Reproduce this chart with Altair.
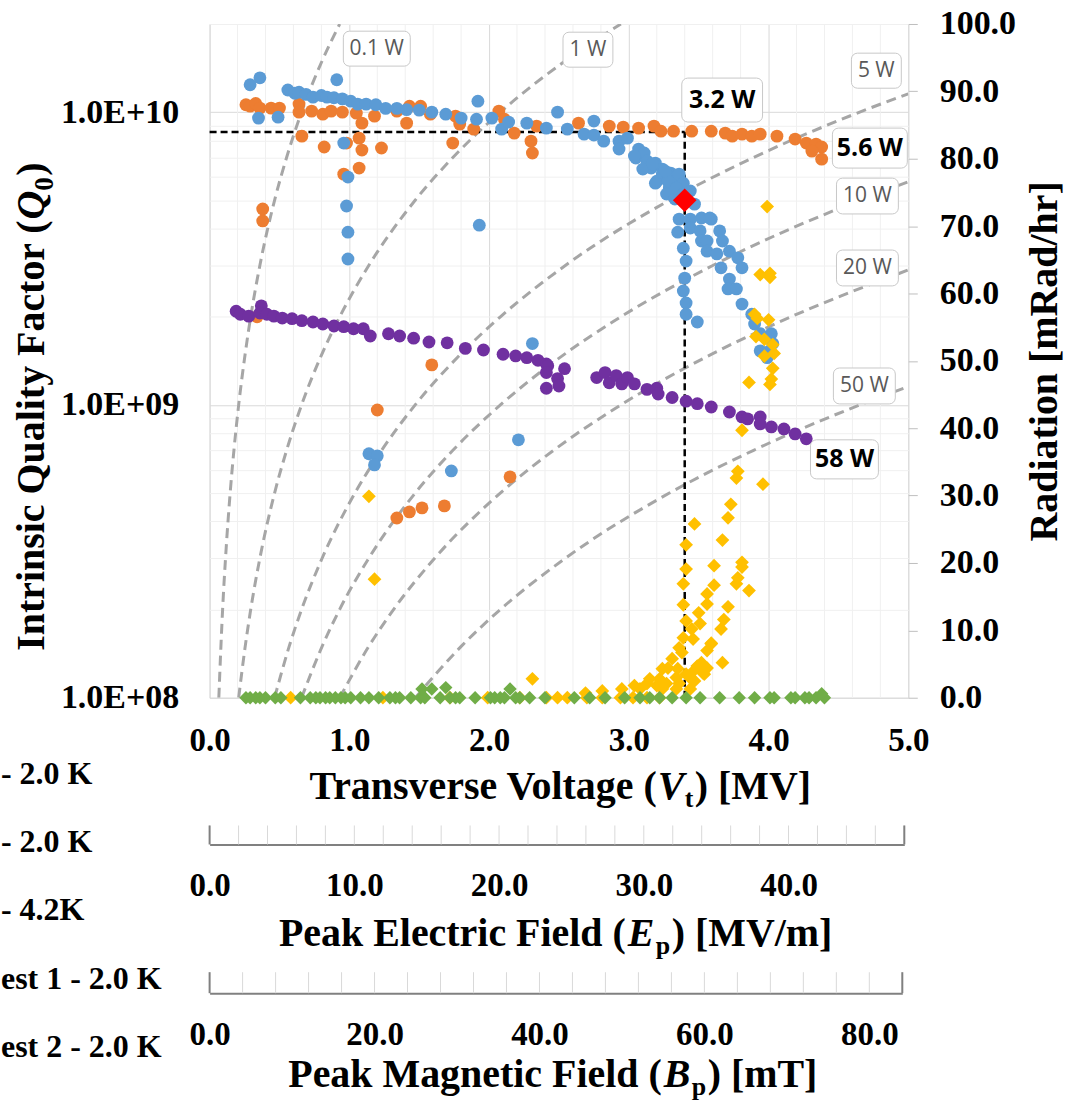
import altair as alt
import pandas as pd

SERIF = "Liberation Serif"
SANS = "Open Sans"

# ---------------- data (Vt [MV], Q0) ----------------
BLUE = [
    (0.29, 1.24e10), (0.36, 1.31e10), (0.35, 9.54e9), (0.49, 9.61e9), (0.91, 1.29e10),
    (0.56, 1.19e10), (0.61, 1.16e10), (0.64, 1.17e10), (0.69, 1.15e10), (0.74, 1.125e10),
    (0.80, 1.14e10), (0.84, 1.125e10), (0.89, 1.12e10), (0.95, 1.11e10), (1.01, 1.09e10),
    (1.06, 1.065e10), (1.12, 1.065e10), (1.19, 1.06e10), (1.26, 1.03e10), (1.34, 1.03e10),
    (1.41, 1.02e10), (1.50, 1.016e10), (1.59, 1.0e10), (1.69, 9.84e9), (1.80, 9.54e9),
    (1.91, 9.46e9), (2.02, 9.54e9), (2.09, 8.75e9), (2.14, 9.25e9), (2.27, 9.17e9),
    (2.41, 8.82e9), (2.49, 1.0e10), (1.92, 1.09e10),
    (2.56, 8.75e9), (2.68, 8.41e9), (2.75, 9.32e9), (2.75, 8.35e9), (2.82, 7.96e9),
    (2.93, 7.96e9), (2.99, 8.15e9), (2.93, 7.48e9), (3.07, 7.48e9), (3.05, 6.97e9),
    (3.11, 7.25e9), (3.13, 6.81e9), (3.19, 6.70e9), (3.16, 6.44e9), (3.24, 6.39e9),
    (3.30, 6.19e9), (3.36, 6.05e9),
    (3.04, 7.08e9), (3.10, 6.39e9), (3.17, 6.65e9), (3.20, 5.81e9), (3.24, 6.14e9),
    (3.29, 5.50e9), (3.31, 5.95e9), (3.36, 6.14e9), (3.39, 5.72e9), (3.27, 5.25e9),
    (3.33, 5.05e9), (3.44, 5.38e9), (3.47, 4.85e9), (3.36, 4.31e9), (3.44, 4.31e9),
    (3.52, 4.35e9), (3.59, 4.31e9), (3.19, 5.72e9), (3.28, 5.81e9), (3.26, 6.29e9),
    (3.34, 5.50e9), (3.39, 5.25e9),
    (3.35, 3.89e9), (3.39, 3.43e9), (3.41, 3.10e9), (3.40, 2.71e9), (3.39, 2.45e9),
    (3.41, 2.23e9), (3.41, 2.04e9), (3.49, 1.92e9),
    (3.44, 4.02e9), (3.51, 3.93e9), (3.52, 3.63e9), (3.56, 3.63e9), (3.56, 3.35e9),
    (3.63, 3.28e9), (3.66, 2.94e9), (3.72, 2.69e9), (3.71, 2.49e9), (3.77, 2.49e9),
    (3.81, 2.21e9), (3.88, 2.04e9), (3.90, 1.89e9), (3.94, 1.75e9), (4.02, 1.75e9),
    (4.03, 1.62e9), (3.94, 1.53e9), (3.99, 1.45e9), (4.01, 1.53e9),
    (3.58, 4.35e9), (3.65, 3.93e9), (3.67, 3.63e9), (3.72, 3.35e9), (3.78, 3.18e9),
    (3.81, 2.94e9),
    (0.96, 7.84e9), (0.99, 6.0e9), (0.98, 4.78e9), (0.99, 3.89e9), (0.99, 3.15e9),
    (1.93, 4.11e9), (2.31, 1.62e9), (1.14, 6.81e8), (1.20, 6.70e8), (1.18, 6.24e8),
    (1.73, 5.95e8), (2.21, 7.60e8),
]

ORANGE = [
    (0.26, 1.06e10), (0.29, 1.048e10), (0.33, 1.07e10), (0.36, 1.032e10), (0.44, 1.032e10),
    (0.50, 1.032e10), (0.64, 1.065e10), (0.64, 1.0e10), (0.73, 1.008e10), (0.81, 9.84e9),
    (0.87, 1.008e10), (0.95, 1.0e10), (1.05, 9.92e9), (1.09, 9.17e9), (1.18, 9.69e9),
    (1.34, 1.008e10), (1.43, 1.048e10), (1.51, 1.048e10), (1.41, 9.17e9), (1.58, 9.84e9),
    (1.76, 9.69e9), (1.79, 9.10e9), (1.89, 8.75e9), (2.07, 1.008e10), (2.11, 9.46e9),
    (2.18, 8.48e9), (2.34, 8.96e9),
    (0.66, 8.28e9), (0.82, 7.60e9), (0.98, 7.84e9), (1.07, 8.15e9), (1.09, 7.42e9),
    (1.23, 7.54e9), (1.07, 6.44e9), (0.96, 6.14e9), (1.74, 7.84e9), (2.30, 7.96e9),
    (2.31, 7.25e9), (0.38, 4.67e9), (0.38, 4.25e9), (0.34, 2.0e9), (1.59, 1.37e9),
    (1.20, 9.61e8), (1.34, 4.11e8), (1.43, 4.31e8), (1.52, 4.45e8), (1.68, 4.52e8),
    (2.15, 5.68e8),
    (2.64, 9.17e9), (2.86, 8.96e9), (2.96, 8.89e9), (3.07, 8.82e9), (3.18, 8.96e9),
    (3.23, 8.61e9), (3.32, 8.61e9), (3.45, 8.61e9), (3.59, 8.61e9), (3.69, 8.48e9),
    (3.74, 8.28e9), (3.81, 8.41e9), (3.88, 8.28e9), (3.94, 8.41e9), (4.06, 8.28e9),
    (4.19, 8.09e9), (4.27, 7.84e9), (4.34, 7.78e9), (4.38, 7.60e9), (4.31, 7.36e9),
    (4.38, 6.91e9),
]

PURPLE = [
    (0.19, 2.09e9), (0.22, 2.04e9), (0.28, 2.01e9), (0.37, 2.18e9), (0.36, 2.06e9),
    (0.41, 2.04e9), (0.46, 2.01e9), (0.52, 1.98e9), (0.59, 1.97e9), (0.66, 1.94e9),
    (0.74, 1.92e9), (0.81, 1.89e9), (0.89, 1.86e9), (0.96, 1.85e9), (1.03, 1.82e9),
    (1.10, 1.82e9), (1.15, 1.72e9), (1.28, 1.75e9), (1.36, 1.72e9), (1.46, 1.69e9),
    (1.57, 1.64e9), (1.70, 1.63e9), (1.83, 1.56e9), (1.96, 1.54e9), (2.10, 1.49e9),
    (2.19, 1.47e9), (2.27, 1.45e9), (2.35, 1.42e9), (2.41, 1.38e9), (2.42, 1.36e9),
    (2.41, 1.29e9), (2.54, 1.33e9), (2.49, 1.23e9), (2.41, 1.14e9), (2.50, 1.16e9),
    (2.77, 1.24e9), (2.83, 1.29e9), (2.86, 1.19e9), (2.91, 1.26e9), (2.95, 1.18e9),
    (2.99, 1.24e9), (3.04, 1.18e9), (3.13, 1.13e9), (3.20, 1.14e9), (3.21, 1.09e9),
    (3.31, 1.06e9), (3.41, 1.03e9), (3.49, 1.01e9), (3.59, 9.84e8), (3.72, 9.46e8),
    (3.81, 9.10e8), (3.85, 8.96e8), (3.94, 9.10e8), (3.94, 8.61e8), (4.02, 8.41e8),
    (4.11, 8.28e8), (4.19, 7.96e8), (4.27, 7.66e8),
]

RED = [(3.40, 5.0e9)]

# radiation series (Vt [MV], mRad/hr)
YELLOW = [
    (3.99, 72.9), (3.94, 62.8), (4.01, 63.0), (4.01, 62.4), (3.90, 56.9), (3.92, 56.3),
    (4.00, 56.1), (3.91, 53.6), (3.97, 53.2), (4.03, 52.4), (4.04, 51.1), (3.97, 50.7),
    (4.03, 48.9), (4.02, 47.3), (4.01, 46.5), (3.86, 46.8), (3.81, 39.7), (3.78, 33.6),
    (3.77, 32.6), (3.96, 31.7), (3.73, 28.7), (3.71, 26.7), (3.47, 25.8), (3.67, 23.4),
    (3.41, 22.7), (3.61, 19.6), (3.81, 20.1), (3.81, 19.4), (3.41, 19.1), (3.39, 16.9),
    (3.61, 16.7), (3.78, 17.8), (3.77, 16.9), (3.86, 15.9), (3.56, 15.4), (3.56, 13.9),
    (3.39, 13.8), (3.71, 13.5), (3.50, 12.6), (3.41, 11.4), (3.68, 11.6), (3.51, 11.0),
    (3.66, 10.2), (3.45, 10.2), (3.39, 8.9), (3.46, 8.7), (3.59, 8.0), (3.36, 7.4),
    (3.38, 6.7), (3.31, 5.8), (3.67, 5.2), (3.49, 4.7), (3.24, 4.3), (3.56, 4.4),
    (3.28, 4.4), (3.35, 4.3), (3.53, 3.7), (3.45, 3.7), (3.15, 2.8), (3.22, 2.8),
    (3.34, 3.0), (3.44, 3.0), (3.04, 1.8), (3.13, 2.1), (3.20, 1.8), (3.27, 2.1),
    (3.36, 2.1), (3.47, 2.5), (2.95, 1.3), (3.08, 1.3), (3.24, 1.3), (3.34, 1.3),
    (3.44, 1.3), (2.81, 1.0), (2.69, 0.7), (3.41, 3.5), (3.54, 3.5), (3.52, 5.2),
    (3.56, 7.0), (3.59, 8.1), (3.46, 2.5),
    (1.14, 29.9), (1.18, 17.6), (2.31, 2.8),
    (0.58, 0.0), (1.24, 0.0), (1.72, 0.0), (1.99, 0.0), (2.22, 0.0), (2.41, 0.0),
    (2.49, 0.0), (2.56, 0.0), (2.70, 0.0), (2.81, 0.0), (2.94, 0.0), (3.03, 0.0),
    (3.13, 0.0), (3.22, 0.0),
]

GREEN = [
    (0.26, 0.0), (0.29, 0.0), (0.33, 0.0), (0.36, 0.0), (0.40, 0.0), (0.47, 0.0),
    (0.51, 0.0), (0.65, 0.0), (0.72, 0.0), (0.76, 0.0), (0.79, 0.0), (0.83, 0.0),
    (0.86, 0.0), (0.90, 0.0), (0.94, 0.0), (0.97, 0.0), (1.01, 0.0), (1.08, 0.0),
    (1.14, 0.0), (1.21, 0.0), (1.29, 0.0), (1.33, 0.0), (1.36, 0.0), (1.44, 0.0),
    (1.51, 0.0), (1.54, 0.0), (1.65, 0.0), (1.72, 0.0), (1.76, 0.0), (1.79, 0.0),
    (1.90, 0.0), (2.01, 0.0), (2.04, 0.0), (2.08, 0.0), (2.11, 0.0), (2.19, 0.0),
    (2.22, 0.0), (2.29, 0.0), (2.40, 0.0), (2.61, 0.0), (2.72, 0.0), (2.83, 0.0),
    (2.97, 0.0), (3.08, 0.0), (3.15, 0.0), (3.22, 0.0), (3.31, 0.0), (3.41, 0.0),
    (3.51, 0.0), (3.65, 0.0), (3.79, 0.0), (3.90, 0.0), (4.01, 0.0), (4.04, 0.0),
    (4.16, 0.0), (4.19, 0.0), (4.26, 0.0), (4.29, 0.0), (4.34, 0.0), (4.40, 0.0),
    (1.52, 1.3), (1.59, 1.3), (1.69, 1.5), (2.15, 1.3), (4.38, 0.6),
]

# iso-power reference curves (Vt [MV], Q0)
CURVES = {
    "0.1 W": [(0.066, 1e8), (0.081, 1.5e8), (0.093, 2e8), (0.114, 3e8), (0.147, 5e8),
              (0.174, 7e8), (0.208, 1e9), (0.255, 1.5e9), (0.294, 2e9), (0.360, 3e9),
              (0.465, 5e9), (0.551, 7e9), (0.658, 1e10), (0.806, 1.5e10), (0.931, 2e10)],
    "1 W": [(0.208, 1e8), (0.255, 1.5e8), (0.294, 2e8), (0.360, 3e8), (0.465, 5e8),
            (0.551, 7e8), (0.658, 1e9), (0.806, 1.5e9), (0.931, 2e9), (1.140, 3e9),
            (1.471, 5e9), (1.741, 7e9), (2.081, 1e10), (2.548, 1.5e10), (2.943, 2e10)],
    "5 W": [(0.465, 1e8), (0.570, 1.5e8), (0.658, 2e8), (0.806, 3e8), (1.040, 5e8),
            (1.231, 7e8), (1.471, 1e9), (1.802, 1.5e9), (2.081, 2e9), (2.548, 3e9),
            (3.290, 5e9), (3.893, 7e9), (4.652, 1e10), (5.0, 1.155e10)],
    "10 W": [(0.658, 1e8), (0.806, 1.5e8), (0.930, 2e8), (1.140, 3e8), (1.471, 5e8),
             (1.741, 7e8), (2.081, 1e9), (2.548, 1.5e9), (2.943, 2e9), (3.604, 3e9),
             (4.652, 5e9), (5.0, 5.78e9)],
    "20 W": [(0.931, 1e8), (1.140, 1.5e8), (1.316, 2e8), (1.612, 3e8), (2.080, 5e8),
             (2.462, 7e8), (2.943, 1e9), (3.604, 1.5e9), (4.161, 2e9), (5.0, 2.89e9)],
    "50 W": [(1.472, 1e8), (1.802, 1.5e8), (2.080, 2e8), (2.548, 3e8), (3.290, 5e8),
             (3.893, 7e8), (4.653, 1e9), (5.0, 1.155e9)],
}

# black dashed guide lines (operating point)
GUIDES = [
    {"x1": 0.0, "x2": 3.40, "y1": 8.55e9, "y2": 8.55e9},
    {"x1": 3.40, "x2": 3.40, "y1": 1e8, "y2": 8.55e9},
]

# annotation boxes: text, centre and box extents in data units
GRAY_LABELS = [
    ("0.1 W", 1.196, 1.647e10, 0.957, 1.436, 1.890e10, 1.436e10),
    ("1 W", 2.707, 1.634e10, 2.529, 2.886, 1.875e10, 1.424e10),
    ("5 W", 4.771, 1.385e10, 4.593, 4.950, 1.590e10, 1.207e10),
    ("10 W", 4.707, 5.17e9, 4.486, 4.929, 5.95e9, 4.49e9),
    ("20 W", 4.707, 2.94e9, 4.486, 4.929, 3.38e9, 2.55e9),
    ("50 W", 4.686, 1.161e9, 4.464, 4.907, 1.337e9, 1.008e9),
]
BOLD_LABELS = [
    ("3.2 W", 3.668, 1.099e10, 3.379, 3.957, 1.307e10, 9.25e9),
    ("5.6 W", 4.725, 7.54e9, 4.457, 4.993, 8.82e9, 6.44e9),
    ("58 W", 4.543, 6.52e8, 4.300, 4.786, 7.60e8, 5.59e8),
]

X_LABELS = [0, 1, 2, 3, 4, 5]
X_MINOR = [0.2, 0.4, 0.6, 0.8, 1.2, 1.4, 1.6, 1.8, 2.2, 2.4, 2.6, 2.8,
           3.2, 3.4, 3.6, 3.8, 4.2, 4.4, 4.6, 4.8]
Q_TICKS = [1e8, 2e8, 3e8, 4e8, 5e8, 6e8, 7e8, 8e8, 9e8,
           1e9, 2e9, 3e9, 4e9, 5e9, 6e9, 7e9, 8e9, 9e9, 1e10, 2e10]
RAD_TICKS = [0, 10, 20, 30, 40, 50, 60, 70, 80, 90, 100]
EP_MINOR = [0, 2, 4, 6, 8, 10, 12, 14, 16, 18, 20, 22, 24, 26, 28, 30, 32, 34, 36, 38, 40,
            42, 44, 46, 48]
EP_LABELS = [0, 10, 20, 30, 40]
EP_MAX = 48
BP_MINOR = [0, 4, 8, 12, 16, 20, 24, 28, 32, 36, 40, 44, 48, 52, 56, 60, 64, 68, 72, 76,
            80, 84]
BP_LABELS = [0, 20, 40, 60, 80]
BP_MAX = 84
LEGEND_TEXT = ["- 2.0 K", "- 2.0 K", "- 4.2K", "est 1 - 2.0 K", "est 2 - 2.0 K"]

# ---------------- helpers ----------------
def df_xy(pairs, name):
    return pd.DataFrame({"vt": [p[0] for p in pairs], "val": [p[1] for p in pairs],
                         "series": name})

curve_rows = []
for k, pts in CURVES.items():
    for vt, q in pts:
        curve_rows.append({"power": k, "vt": vt, "q": q})
curves_df = pd.DataFrame(curve_rows)

def lab_df(rows):
    return pd.DataFrame(rows, columns=["text", "cx", "cy", "x1", "x2", "y1", "y2"])

ONE = pd.DataFrame({"k": [0]})

def txt(s, x, y, size, style="normal", weight="bold", angle=0, align="left",
        font=SERIF, color="black", baseline="alphabetic"):
    return alt.Chart(ONE).mark_text(
        text=s, font=font, fontSize=size, fontWeight=weight, fontStyle=style,
        angle=angle, align=align, baseline=baseline, color=color
    ).encode(x=alt.value(x), y=alt.value(y))

MAJOR_Q = "abs(log(datum.value)/LN10 - round(log(datum.value)/LN10)) < 0.001"

XS = alt.Scale(domain=[0, 5], nice=False, zero=False)
QS = alt.Scale(type="log", domain=[1e8, 2e10], nice=False)
RS = alt.Scale(domain=[0, 100], nice=False, zero=False)

x_axis = alt.Axis(
    values=X_LABELS, format=".1f", grid=True, gridColor="#d9d9d9",
    gridWidth=1, ticks=False, tickSize=0, domain=False, title=None,
    labelFont=SERIF, labelFontWeight="bold", labelFontSize=33, labelColor="black",
    labelPadding=27, labelOverlap=False, labelFlush=False,
)
q_axis = alt.Axis(
    orient="left", values=Q_TICKS,
    labelExpr=(f"{MAJOR_Q} ? '1.0E+' + (round(log(datum.value)/LN10) < 10 ? '0' : '') "
               "+ round(log(datum.value)/LN10) : ''"),
    grid=True,
    gridColor={"condition": {"test": MAJOR_Q, "value": "#d9d9d9"}, "value": "#f0f0f0"},
    gridWidth=1, ticks=False, tickSize=0, domain=False, title=None,
    labelFont=SERIF, labelFontWeight="bold", labelFontSize=34, labelColor="black",
    labelPadding=31, labelOverlap=False, labelFlush=False,
)
r_axis = alt.Axis(
    orient="right", values=RAD_TICKS, format=".1f", grid=False, ticks=True, tickSize=9,
    tickColor="#bfbfbf", tickWidth=1, domain=False, title=None,
    labelFont=SERIF, labelFontWeight="bold", labelFontSize=34, labelColor="black",
    labelPadding=22, labelOverlap=False, labelFlush=False,
)

minor_grid = alt.Chart(pd.DataFrame({"v": X_MINOR})).mark_rule(
    color="#f0f0f0", strokeWidth=1
).encode(x=alt.X("v:Q", scale=XS, axis=x_axis), y=alt.value(0), y2=alt.value(675))

curves = alt.Chart(curves_df).mark_line(
    strokeDash=[10, 6], strokeWidth=3, color="#a6a6a6", interpolate="monotone", clip=True
).encode(x=alt.X("vt:Q", scale=XS, axis=x_axis), y=alt.Y("q:Q", scale=QS, axis=q_axis),
         detail="power:N", order="vt:Q")

guides = alt.Chart(pd.DataFrame(GUIDES)).mark_rule(
    color="black", strokeDash=[7, 4], strokeWidth=2.5
).encode(x="x1:Q", x2="x2:Q", y="y1:Q", y2="y2:Q")

def circles(pairs, name, color):
    return alt.Chart(df_xy(pairs, name)).mark_circle(size=165, opacity=1, color=color).encode(
        x="vt:Q", y="val:Q")

orange = circles(ORANGE, "Q0 - 2.0 K (b)", "#ED7D31")
blue = circles(BLUE, "Q0 - 2.0 K (a)", "#5B9BD5")
purple = circles(PURPLE, "Q0 - 4.2K", "#7030A0")
red = alt.Chart(df_xy(RED, "operating point")).mark_point(
    shape="diamond", filled=True, size=560, opacity=1, color="#FF0000"
).encode(x="vt:Q", y="val:Q")

def boxes(rows):
    return alt.Chart(lab_df(rows)).mark_rect(
        fill="white", stroke="#c8c8c8", strokeWidth=1, cornerRadius=6
    ).encode(x="x1:Q", x2="x2:Q", y="y1:Q", y2="y2:Q")

gray_boxes = boxes(GRAY_LABELS)
bold_boxes = boxes(BOLD_LABELS)
gray_text = alt.Chart(lab_df(GRAY_LABELS)).mark_text(
    font=SANS, fontSize=21, color="#595959", align="center", baseline="middle"
).encode(x="cx:Q", y="cy:Q", text="text:N")
bold_text = alt.Chart(lab_df(BOLD_LABELS)).mark_text(
    font=SANS, fontSize=25, fontWeight="bold", color="black", align="center", baseline="middle"
).encode(x="cx:Q", y="cy:Q", text="text:N")

yellow = alt.Chart(df_xy(YELLOW, "Radiation Test 1 - 2.0 K")).mark_point(
    shape="diamond", filled=True, size=190, opacity=1, color="#FFC000"
).encode(x=alt.X("vt:Q", scale=XS, axis=x_axis), y=alt.Y("val:Q", scale=RS, axis=r_axis))
green = alt.Chart(df_xy(GREEN, "Radiation Test 2 - 2.0 K")).mark_point(
    shape="diamond", filled=True, size=180, opacity=1, color="#70AD47"
).encode(x="vt:Q", y="val:Q")

# axis titles with italic symbols and subscripts (plot-relative pixels)
titles_main = [
    txt("Intrinsic Quality Factor (", -166, 628, 40, angle=270),
    txt("Q", -166, 196, 40, style="italic", angle=270),
    txt("0", -157, 167, 27, angle=270),
    txt(")", -166, 152, 40, angle=270),
    txt("Radiation [mRad/hr]", 849, 338, 40, angle=270, align="center"),
    txt("Transverse Voltage (", 448, 776, 40, align="right"),
    txt("V", 449, 776, 40, style="italic"),
    txt("t", 476, 784, 26),
    txt(") [MV]", 486, 776, 40),
]
legend_cut = [txt(s, -209, 761 + i * 68.5, 32) for i, s in enumerate(LEGEND_TEXT)]

q_group = alt.layer(minor_grid, curves, guides, orange, blue, purple, red,
                    gray_boxes, bold_boxes, gray_text, bold_text,
                    *titles_main, *legend_cut)
r_group = alt.layer(yellow, green)
main = alt.layer(q_group, r_group).resolve_scale(y="independent").properties(
    width=700, height=675)


def panel(minor, labels, dmax, width, height, title_parts):
    ax = alt.Axis(values=labels, format=".1f", ticks=False, tickSize=0, grid=False,
                  domain=True, domainColor="#808080", domainWidth=2, title=None,
                  labelFont=SERIF, labelFontWeight="bold", labelFontSize=33,
                  labelColor="black", labelPadding=25, labelOverlap=False, labelFlush=False)
    xs = alt.Scale(domain=[0, dmax], nice=False, zero=False)
    rules = alt.Chart(pd.DataFrame({"v": minor})).mark_rule(
        color="#d9d9d9", strokeWidth=1).encode(
        x=alt.X("v:Q", scale=xs, axis=ax), y=alt.value(0), y2=alt.value(height))
    ends = alt.Chart(pd.DataFrame({"v": [0, dmax]})).mark_rule(
        color="#808080", strokeWidth=2).encode(x="v:Q", y=alt.value(0), y2=alt.value(height))
    return alt.layer(rules, ends, *title_parts).properties(
        width=width, height=height,
        view=alt.ViewBackground(stroke="transparent", strokeWidth=0))

ep = panel(EP_MINOR, EP_LABELS, EP_MAX, 696, 19, [
    txt("Peak Electric Field (", 417, 121, 40, align="right"),
    txt("E", 419, 121, 40, style="italic"),
    txt("p", 447, 129, 26),
    txt(") [MV/m]", 463, 121, 40),
])
bp = panel(BP_MINOR, BP_LABELS, BP_MAX, 694, 21, [
    txt("Peak Magnetic Field (", 453, 115, 40, align="right"),
    txt("B", 455, 115, 40, style="italic"),
    txt("p", 483, 123, 26),
    txt(") [mT]", 499, 115, 40),
])

chart = alt.vconcat(main, ep, bp, spacing=128, bounds="flush").properties(
    padding={"left": 0, "top": 5, "right": 0, "bottom": 0}
).configure_view(stroke="#7f7f7f", strokeWidth=1.5).configure_axis(
    labelOverlap=False).configure(background="white")

chart.save("out.html", embed_options={"renderer": "svg", "actions": False})
